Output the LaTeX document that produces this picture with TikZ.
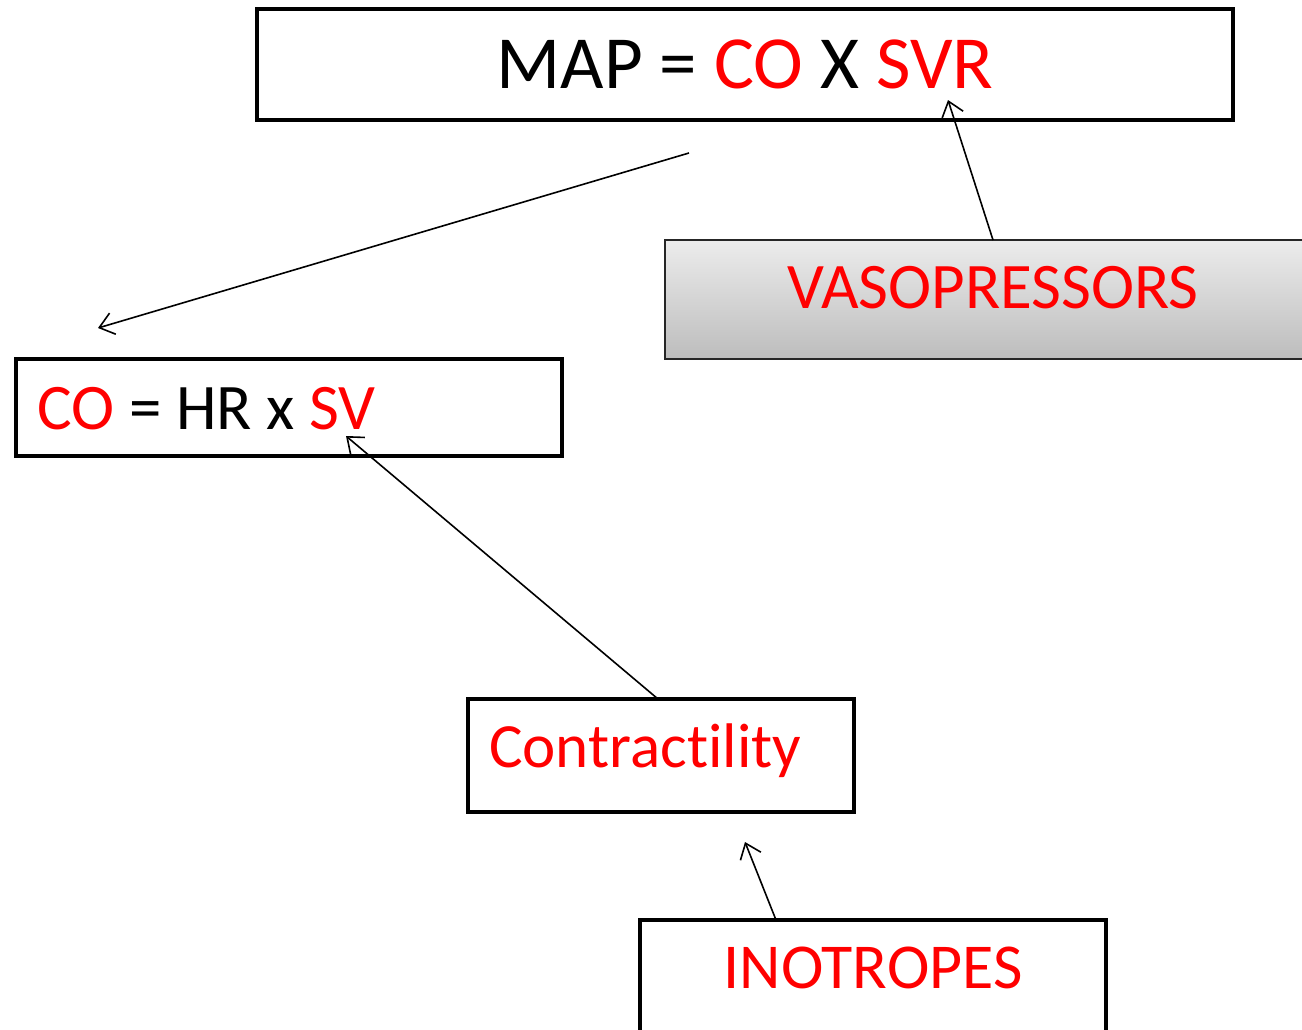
\documentclass[tikz,border=0pt]{standalone}
\usepackage{fontspec}
\setmainfont[Ligatures=NoCommon]{Carlito}
\usetikzlibrary{arrows.meta}
\definecolor{pred}{RGB}{255,0,0}
\begin{document}
\begin{tikzpicture}[x=1pt,y=-1pt,
  thickbox/.style={draw=black,line width=4pt,inner sep=0pt,fill=white},
  gradbox/.style={draw=black!85,line width=1.5pt,inner sep=0pt,top color=gray!15,bottom color=gray!52},
  lbl/.style={inner sep=0pt,anchor=base},
  conn/.style={draw=black,line width=1.6pt,-{Straight Barb[length=14pt,width=22pt,line width=1.6pt]}}]
\useasboundingbox (0,0) rectangle (1302,1029);
\clip (0,0) rectangle (1302,1029);
% boxes
\node[thickbox,minimum width=976pt,minimum height=111pt] (map) at (745,64.5) {};
\node[gradbox,minimum width=700pt,minimum height=119pt] (vaso) at (1015,299.5) {};
\node[thickbox,minimum width=546pt,minimum height=97pt] (co) at (289,407.5) {};
\node[thickbox,minimum width=386pt,minimum height=113pt] (contr) at (661,755.5) {};
\node[thickbox,minimum width=466pt,minimum height=160pt] (ino) at (873,1000) {};
% texts
\node[lbl,font=\fontsize{75}{90}\selectfont] (maptxt) at (745,88) {MAP = \textcolor{pred}{CO} X \textcolor{pred}{SVR}};
\node[lbl,font=\fontsize{65}{78}\selectfont,text=pred] (vasotxt) at (993,308) {VASOPRESSORS};
\node[lbl,anchor=base west,font=\fontsize{65}{78}\selectfont] (cotxt) at (37,429) {\textcolor{pred}{CO} = HR x \textcolor{pred}{SV}};
\node[lbl,anchor=base west,font=\fontsize{63}{76}\selectfont,text=pred] (contrtxt) at (489,767) {Contractility};
\node[lbl,font=\fontsize{64}{76}\selectfont,text=pred] (inotxt) at (873,988) {INOTROPES};
% connector end points
\coordinate (mapout) at (689,153);
\coordinate (coin) at (98,328);
\coordinate (svr) at (948,100);
\coordinate (vasotop) at (993,240);
\coordinate (sv) at (346,436);
\coordinate (contrtop) at (658,699);
\coordinate (contrin) at (745,842);
\coordinate (inotop) at (776,920);
% connectors
\draw[conn] (mapout) -- (coin);
\draw[conn] (vasotop) -- (svr);
\draw[conn] (contrtop) -- (sv);
\draw[conn] (inotop) -- (contrin);
\end{tikzpicture}
\end{document}
